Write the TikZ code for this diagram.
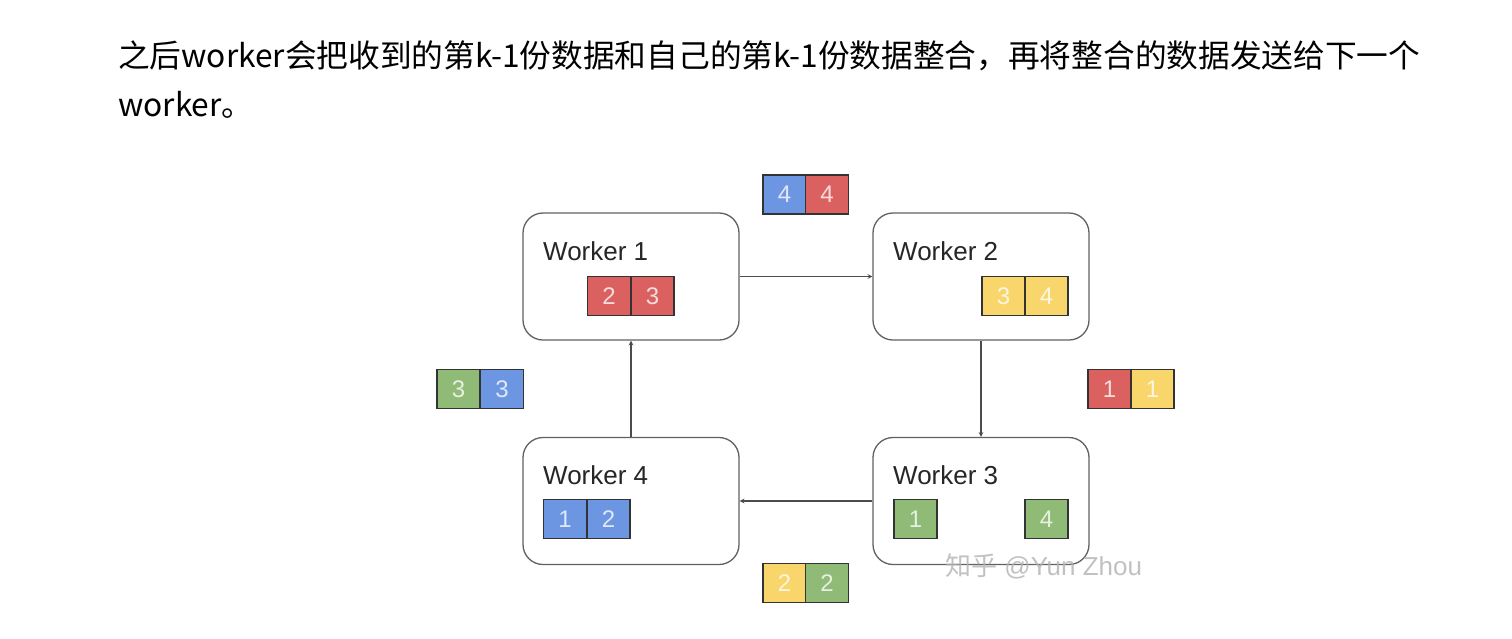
\documentclass[tikz,border=0pt]{standalone}
\usepackage{fontspec}
\setmainfont{Liberation Sans}
\newfontfamily\cjk{Noto Sans CJK SC}
\definecolor{bluec}{HTML}{6D96E2}
\definecolor{redc}{HTML}{DA6160}
\definecolor{yelc}{HTML}{F8D66C}
\definecolor{grnc}{HTML}{8FBB76}
\begin{document}
\begin{tikzpicture}[x=1pt, y=-1pt, >=stealth,
  worker/.style={draw=black!62, line width=1.3pt, rounded corners=20pt, minimum width=216pt, minimum height=127pt},
  wlabel/.style={anchor=base west, inner sep=0pt, text=black!85, font=\fontsize{26}{30}\selectfont},
  chip/.style={draw=black!80, line width=1.3pt, fill=#1, minimum width=43pt, minimum height=39pt, inner sep=0pt, text=white, text opacity=.78, font=\fontsize{24}{28}\selectfont},
  link/.style={->, draw=black!70, line width=1.1pt}]
\useasboundingbox[fill=white](0,0) rectangle (1512,638);
\node[anchor=base west, inner sep=0pt, font=\cjk\fontsize{31.7}{38}\selectfont] (l1) at (118,67) {之后worker会把收到的第k-1份数据和自己的第k-1份数据整合，再将整合的数据发送给下一个};
\node[anchor=base west, inner sep=0pt, font=\cjk\fontsize{31.7}{38}\selectfont] (l2) at (118,116) {worker。};

\node[worker] (w1) at (631,276.5) {};
\node[worker] (w2) at (981,276.5) {};
\node[worker] (w3) at (981,501) {};
\node[worker] (w4) at (631,501) {};
\node[wlabel] (w1t) at (543,260) {Worker 1};
\node[wlabel] (w2t) at (893,260) {Worker 2};
\node[wlabel] (w3t) at (893,484) {Worker 3};
\node[wlabel] (w4t) at (543,484) {Worker 4};

\draw[link](w1.east)--(w2.west);
\draw[link](w2.south)--(w3.north);
\draw[link](w3.west)--(w4.east);
\draw[link](w4.north)--(w1.south);

\node[chip=redc] (w1a) at (609,296) {2};
\node[chip=redc] (w1b) at (652.5,296) {3};
\node[chip=yelc] (w2a) at (1003.5,296) {3};
\node[chip=yelc] (w2b) at (1046.5,296) {4};
\node[chip=grnc] (w3a) at (915.5,519) {1};
\node[chip=grnc] (w3b) at (1046.5,519) {4};
\node[chip=bluec] (w4a) at (565,519) {1};
\node[chip=bluec] (w4b) at (608.5,519) {2};

\node[chip=bluec] (ta) at (784.5,194.5) {4};
\node[chip=redc] (tb) at (827,194.5) {4};
\node[chip=redc] (ra) at (1109.5,389) {1};
\node[chip=yelc] (rb) at (1152.5,389) {1};
\node[chip=yelc] (ba) at (784.5,583) {2};
\node[chip=grnc] (bb) at (827,583) {2};
\node[chip=grnc] (la) at (458.5,389) {3};
\node[chip=bluec] (lb) at (502,389) {3};

\node[anchor=base west, inner sep=0pt, text=black!30, text opacity=.8, font=\fontsize{26}{30}\selectfont] (wm) at (945,575) {{\cjk 知乎} @Yun Zhou};
\end{tikzpicture}
\end{document}
